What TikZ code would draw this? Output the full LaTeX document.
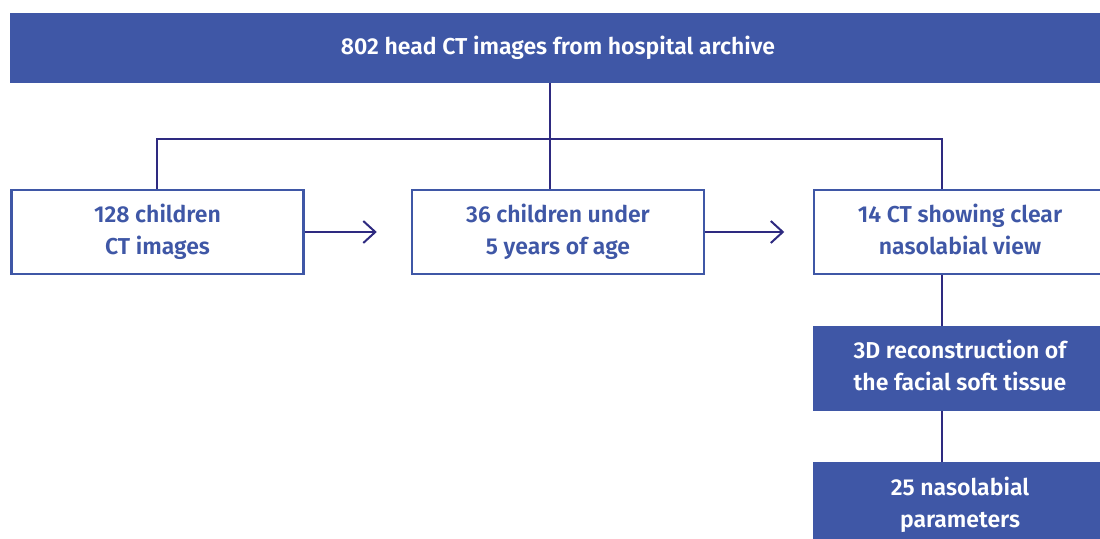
\documentclass[tikz,border=0pt]{standalone}
\usepackage{fontspec}
\setmainfont{Fira Sans}[BoldFont={Fira Sans SemiBold}]
\usetikzlibrary{arrows.meta}
\definecolor{boxblue}{HTML}{3F57A6}
\definecolor{linecol}{HTML}{2E2A80}
\tikzset{
  txt/.style={font=\bfseries\fontsize{23}{32}\selectfont, align=center, inner sep=0pt},
  filledbox/.style={txt, fill=boxblue, draw=none, text=white, minimum width=294pt, minimum height=86pt},
  openbox/.style={txt, fill=white, draw=boxblue, line width=2.5pt, text=boxblue, minimum width=292pt, minimum height=84pt},
  conn/.style={draw=linecol, line width=2pt},
  arr/.style={conn, -{Straight Barb[length=12pt,width=22pt,line width=2pt]}}
}
\begin{document}
\begin{tikzpicture}[x=1pt,y=-1pt]
\useasboundingbox (0,0) rectangle (1100,538);
\node[filledbox, minimum width=1096pt, minimum height=70pt] (top) at (558,48) {\strut 802 head CT images from hospital archive};
\node[openbox] (b1) at (157.5,232) {\strut 128 children\\\strut CT images};
\node[openbox] (b2) at (558,232) {\strut 36 children under\\\strut 5 years of age};
\node[openbox] (b3) at (960,232) {\strut 14 CT showing clear\\\strut nasolabial view};
\node[filledbox, minimum height=85pt] (b4) at (960,368.5) {\strut 3D reconstruction of\\\strut the facial soft tissue};
\node[filledbox] (b5) at (960,505) {\strut 25 nasolabial\\\strut parameters};
\coordinate (split) at (550,139);
\draw[conn] (top.south -| split) -- (split);
\draw[conn] (b1.north -| 157,0) |- (split) -| (b3.north -| 942,0);
\draw[conn] (split) -- (b2.north -| split);
\draw[arr] (b1.east) -- ++(72,0) coordinate (a1);
\draw[arr] (b2.east) -- ++(79,0) coordinate (a2);
\draw[conn] (b3.south -| 942,0) -- (b4.north -| 942,0);
\draw[conn] (b4.south -| 942,0) -- (b5.north -| 942,0);
\end{tikzpicture}
\end{document}
